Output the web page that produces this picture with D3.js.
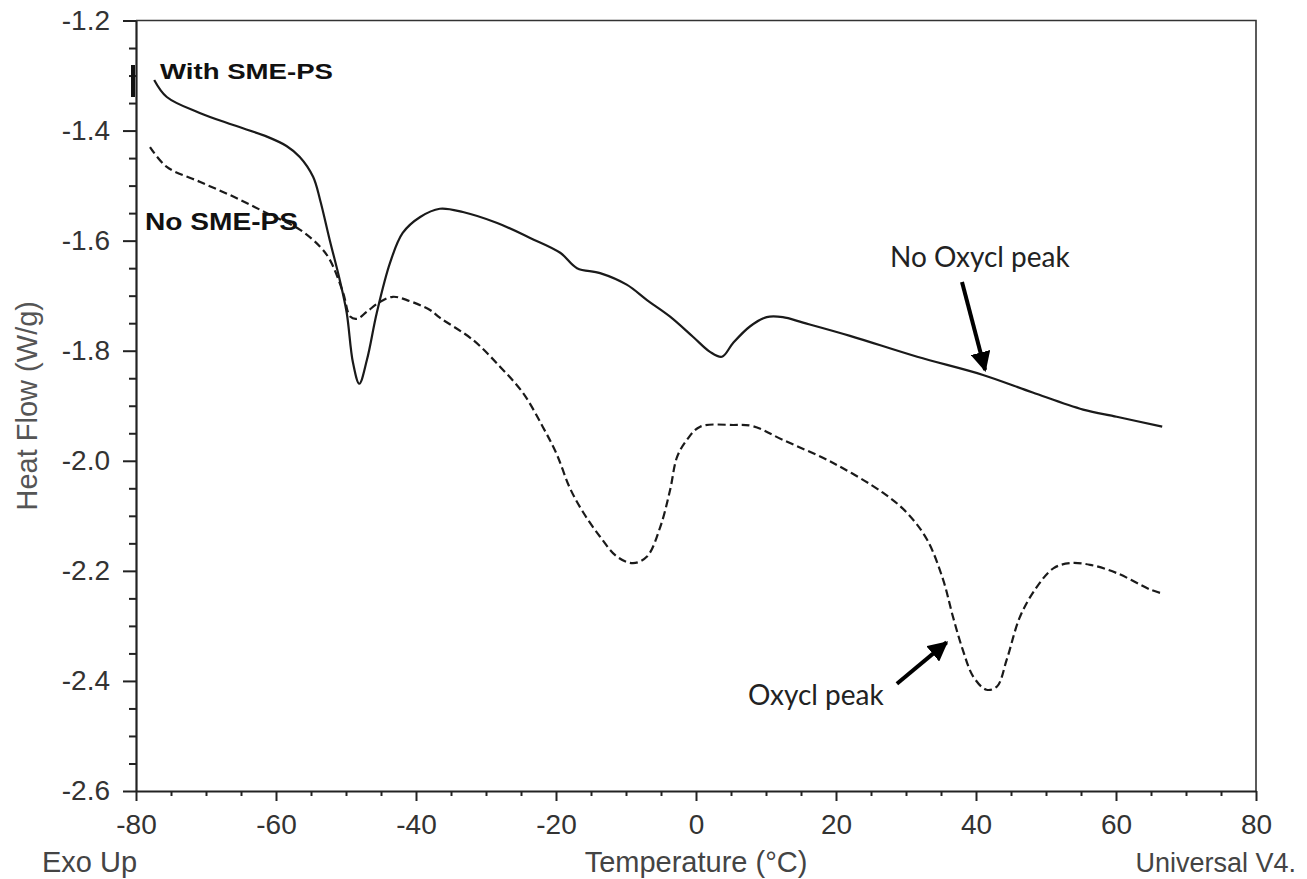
<!DOCTYPE html>
<html>
<head>
<meta charset="utf-8">
<script src="https://cdn.jsdelivr.net/npm/d3@7"></script>
<style>
  body { margin: 0; background: #fff; }
  svg { display: block; }
</style>
</head>
<body>
<div id="chart"></div>
<script>
// DSC traces: temperature (°C) vs heat flow (W/g)
var withTemp = [-77.4, -75.6, -70.9, -66.1, -61.3, -58.5, -56.6, -54.7, -53.7, -52.3, -50.9, -49.9, -49.0, -48.1,
  -47.0, -45.6, -43.7, -41.9, -39.4, -36.6, -33.3, -28.4, -23.7, -19.4, -17.0, -13.7, -9.9, -7.0, -3.7, -0.4,
  2.0, 3.7, 5.3, 7.7, 10.1, 12.4, 15.3, 22.0, 31.6, 41.0, 48.1, 55.3, 60.1, 66.6];
var withFlow = [-1.308, -1.339, -1.368, -1.390, -1.411, -1.428, -1.448, -1.484, -1.526, -1.600, -1.671, -1.731, -1.822, -1.860,
  -1.816, -1.731, -1.640, -1.586, -1.557, -1.542, -1.548, -1.568, -1.595, -1.622, -1.650, -1.659, -1.680, -1.708, -1.738, -1.775,
  -1.802, -1.811, -1.786, -1.756, -1.739, -1.739, -1.749, -1.773, -1.811, -1.844, -1.876, -1.907, -1.920, -1.938];

var noTemp = [-78.0, -75.6, -70.9, -66.1, -61.3, -56.6, -53.7, -52.3, -50.4, -49.4, -48.4, -47.0, -45.1, -43.3,
  -41.3, -38.0, -36.6, -31.9, -28.0, -24.7, -21.9, -19.9, -18.0, -16.1, -13.7, -11.3, -9.0, -7.0, -5.1, -3.7,
  -2.7, -1.3, 0.6, 5.3, 8.1, 12.4, 19.6, 26.7, 30.1, 33.0, 35.3, 36.7, 38.1, 39.6, 41.5, 43.0, 44.4, 46.3,
  48.7, 51.1, 53.4, 56.3, 60.1, 64.9, 66.3];
var noFlow = [-1.430, -1.466, -1.493, -1.520, -1.550, -1.580, -1.611, -1.635, -1.695, -1.738, -1.742, -1.729, -1.711, -1.702,
  -1.708, -1.726, -1.740, -1.780, -1.829, -1.877, -1.938, -1.988, -2.050, -2.094, -2.138, -2.174, -2.186, -2.174, -2.120, -2.053,
  -1.993, -1.962, -1.938, -1.935, -1.937, -1.962, -2.004, -2.058, -2.094, -2.143, -2.216, -2.283, -2.343, -2.392, -2.416, -2.410, -2.361, -2.283,
  -2.229, -2.195, -2.186, -2.189, -2.204, -2.234, -2.240];

var xTicks = [-80, -60, -40, -20, 0, 20, 40, 60, 80];
var yTicks = [-2.6, -2.4, -2.2, -2.0, -1.8, -1.6, -1.4, -1.2];

var width = 1307, height = 879;
var margin = {top: 20.5, right: 51, bottom: 88, left: 136};

var svg = d3.select("#chart").append("svg")
  .attr("width", width)
  .attr("height", height);

var x = d3.scaleLinear().domain([-80, 80]).range([margin.left, width - margin.right]);
var y = d3.scaleLinear().domain([-2.6, -1.2]).range([height - margin.bottom, margin.top]);

var tickFont = "Liberation Sans, Arial, sans-serif";

// frame: top and right edges
svg.append("path")
  .attr("d", "M" + x(-80) + "," + y(-1.2) + "H" + x(80) + "V" + y(-2.6))
  .attr("fill", "none")
  .attr("stroke", "#333")
  .attr("stroke-width", 1.6);

// minor ticks
var xMinor = d3.range(-80, 80.1, 5).filter(function(d) { return d % 20 != 0; });
var yMinor = d3.range(-2.6, -1.19, 0.05).filter(function(d) { return Math.abs(Math.round(d * 5) - d * 5) > 0.01; });

svg.append("g")
  .attr("transform", "translate(0," + y(-2.6) + ")")
  .call(d3.axisBottom(x).tickValues(xMinor).tickSize(5).tickFormat(""))
  .call(function(g) { g.select(".domain").remove(); })
  .selectAll("line").attr("stroke", "#222").attr("stroke-width", 2);

svg.append("g")
  .attr("transform", "translate(" + x(-80) + ",0)")
  .call(d3.axisLeft(y).tickValues(yMinor).tickSize(7).tickFormat(""))
  .call(function(g) { g.select(".domain").remove(); })
  .selectAll("line").attr("stroke", "#222").attr("stroke-width", 2);

// major axes
var xAxis = svg.append("g")
  .attr("transform", "translate(0," + y(-2.6) + ")")
  .call(d3.axisBottom(x).tickValues(xTicks).tickSize(10).tickSizeOuter(0).tickPadding(13).tickFormat(d3.format("d")));

var yAxis = svg.append("g")
  .attr("transform", "translate(" + x(-80) + ",0)")
  .call(d3.axisLeft(y).tickValues(yTicks).tickSize(13).tickSizeOuter(0).tickPadding(13).tickFormat(d3.format(".1f")));

[xAxis, yAxis].forEach(function(g) {
  g.select(".domain").attr("stroke", "#222").attr("stroke-width", 2.2);
  g.selectAll(".tick line").attr("stroke", "#222").attr("stroke-width", 2);
  g.selectAll(".tick text")
    .attr("font-family", tickFont)
    .attr("font-size", 28)
    .attr("fill", "#333")
    .text(function(d) { return d3.select(this).text().replace("\u2212", "-"); });
});

// axis titles and corner notes
svg.append("text")
  .attr("transform", "translate(37," + y(-1.9) + ") rotate(-90)")
  .attr("text-anchor", "middle")
  .attr("font-family", tickFont)
  .attr("font-size", 29)
  .attr("fill", "#555")
  .text("Heat Flow (W/g)");

svg.append("text")
  .attr("x", x(0))
  .attr("y", 872)
  .attr("text-anchor", "middle")
  .attr("font-family", tickFont)
  .attr("font-size", 29)
  .attr("fill", "#444")
  .text("Temperature (°C)");

svg.append("text")
  .attr("x", 42)
  .attr("y", 872)
  .attr("font-family", tickFont)
  .attr("font-size", 29)
  .attr("fill", "#444")
  .text("Exo Up");

svg.append("text")
  .attr("x", 1296)
  .attr("y", 872)
  .attr("text-anchor", "end")
  .attr("font-family", tickFont)
  .attr("font-size", 27)
  .attr("fill", "#444")
  .text("Universal V4.");

// traces
var line = d3.line()
  .x(function(d) { return x(d[0]); })
  .y(function(d) { return y(d[1]); })
  .curve(d3.curveCatmullRom.alpha(0.5));

svg.append("path")
  .datum(d3.zip(withTemp, withFlow))
  .attr("d", line)
  .attr("fill", "none")
  .attr("stroke", "#1a1a1a")
  .attr("stroke-width", 2.2);

svg.append("path")
  .datum(d3.zip(noTemp, noFlow))
  .attr("d", line)
  .attr("fill", "none")
  .attr("stroke", "#1a1a1a")
  .attr("stroke-width", 2.2)
  .attr("stroke-dasharray", "8,4");

// small stray mark left of the first label
svg.append("rect")
  .attr("x", 131).attr("y", 65)
  .attr("width", 4).attr("height", 32)
  .attr("fill", "#111");

// series labels (the source type is stretched wide)
svg.append("text")
  .attr("x", 160).attr("y", 79)
  .attr("font-family", tickFont)
  .attr("font-weight", "bold")
  .attr("font-size", 22)
  .attr("fill", "#111")
  .attr("textLength", 173)
  .attr("lengthAdjust", "spacingAndGlyphs")
  .text("With SME-PS");

svg.append("text")
  .attr("x", 145).attr("y", 230)
  .attr("font-family", tickFont)
  .attr("font-weight", "bold")
  .attr("font-size", 23)
  .attr("fill", "#111")
  .attr("textLength", 153)
  .attr("lengthAdjust", "spacingAndGlyphs")
  .text("No SME-PS");

// annotations with arrows
svg.append("defs").append("marker")
  .attr("id", "head")
  .attr("viewBox", "0 0 10 10")
  .attr("refX", 9).attr("refY", 5)
  .attr("markerWidth", 5).attr("markerHeight", 5)
  .attr("orient", "auto")
  .append("path")
  .attr("d", "M0,0L10,5L0,10z")
  .attr("fill", "#000");

var noteFont = "Lato, 'Open Sans', sans-serif";

svg.append("text")
  .attr("x", 890).attr("y", 267)
  .attr("font-family", noteFont)
  .attr("font-size", 28)
  .attr("fill", "#222")
  .text("No Oxycl peak");

svg.append("line")
  .attr("x1", x(38.0)).attr("y1", y(-1.675))
  .attr("x2", x(41.3)).attr("y2", y(-1.835))
  .attr("stroke", "#000")
  .attr("stroke-width", 4)
  .attr("marker-end", "url(#head)");

svg.append("text")
  .attr("x", 748).attr("y", 705)
  .attr("font-family", noteFont)
  .attr("font-size", 28)
  .attr("fill", "#222")
  .text("Oxycl peak");

svg.append("line")
  .attr("x1", x(28.7)).attr("y1", y(-2.405))
  .attr("x2", x(35.8)).attr("y2", y(-2.330))
  .attr("stroke", "#000")
  .attr("stroke-width", 4)
  .attr("marker-end", "url(#head)");
</script>
</body>
</html>
